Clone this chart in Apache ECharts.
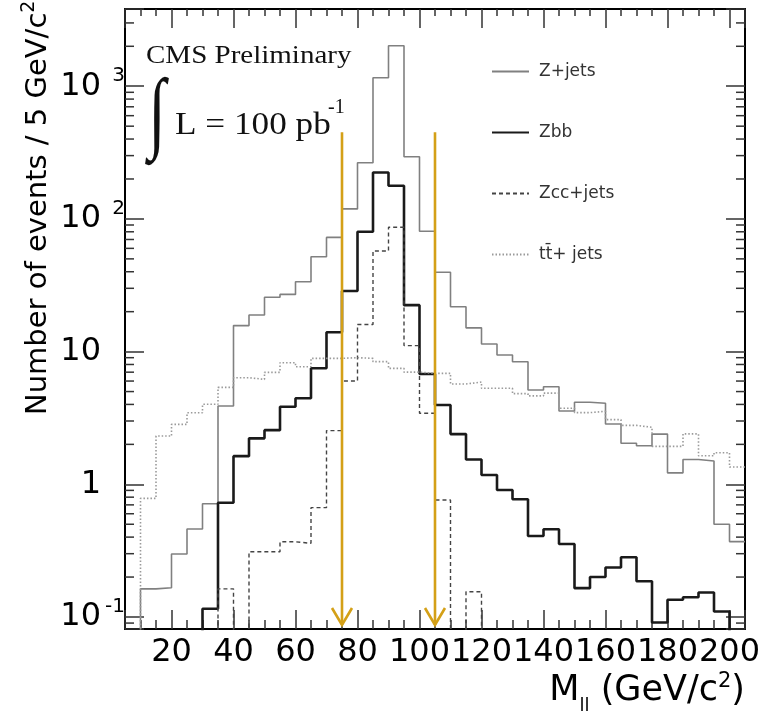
<!DOCTYPE html>
<html><head><meta charset="utf-8">
<script src="https://cdn.jsdelivr.net/npm/echarts@6/dist/echarts.min.js"></script>
<style>html,body{margin:0;padding:0;background:#fff}#c{width:767px;height:722px}</style>
</head><body><div id="c"></div>
<script>
// ---- data (bin lower edges, 5 GeV bins) ----
const binLow = [5,10,15,20,25,30,35,40,45,50,55,60,65,70,75,80,85,90,95,100,105,110,115,120,125,130,135,140,145,150,155,160,165,170,175,180,185,190,195,200];
const binWidth = 5;
const zJets   = [0,0.163,0.166,0.298,0.46,0.714,3.89,15.7,18.9,25.7,27.0,33.6,51.9,72.6,119,265,1159,2019,294,80.7,39.6,21.8,15.1,11.4,9.42,8.39,5.14,5.44,3.57,4.15,4.08,2.85,2.04,1.95,2.39,1.22,1.54,1.50,0.50,0.37];
const zbb     = [0,0,0,0,0,0.1155,0.727,1.63,2.22,2.56,3.84,4.45,7.5,14.0,28.6,80.1,224,178,22.4,6.78,3.96,2.39,1.54,1.175,0.906,0.771,0.408,0.458,0.355,0.165,0.200,0.236,0.282,0.186,0.091,0.135,0.141,0.153,0.110,0];
const zccJets = [0,0,0,0,0,0,0.163,0,0.31,0.31,0.369,0.359,0.667,2.54,6.0,16.0,57.3,86.5,11.1,3.43,0.762,0,0.155,0,0,0,0,0,0,0,0,0,0,0,0,0,0,0,0,0];
const ttJets  = [0,0.784,2.31,2.83,3.46,4.01,5.38,6.36,6.18,6.98,8.25,7.69,8.9,8.9,9.0,8.9,8.4,7.48,7.0,6.86,6.86,5.7,5.9,5.29,5.29,4.82,4.64,4.87,3.74,3.47,3.55,3.07,2.78,2.69,1.93,1.93,2.40,1.64,1.73,1.35];
const seriesNames = ['Z+jets', 'Zbb', 'Zcc+jets', 'tt\u0304+ jets'];
const cutValues = [75, 105];
const arrowTop = 450;
const arrowTip = 0.087;
const xTickLabels = [20,40,60,80,100,120,140,160,180,200];
const yTickValues = [0.1, 1, 10, 100, 1000];
const yTickLabels = [['10','-1'], ['1',''], ['10',''], ['10','2'], ['10','3']];
const yMinorTicks = [0.09,0.2,0.3,0.4,0.5,0.6,0.7,0.8,0.9,2,3,4,5,6,7,8,9,20,30,40,50,60,70,80,90,200,300,400,500,600,700,800,900,2000,3000];
const xMin = 5, xMax = 205, yMin = 0.0812, yMax = 3820;

// ---- build ----
const FLOOR = 1e-3;
function stepData(vals) {
  const d = binLow.map((x, i) => [x, Math.max(vals[i], FLOOR)]);
  d.push([binLow[binLow.length - 1] + binWidth, Math.max(vals[vals.length - 1], FLOOR)]);
  return d;
}
const styles = [
  {color: '#808080', width: 1.6, type: 'solid'},
  {color: '#1a1a1a', width: 2.6, type: 'solid'},
  {color: '#444444', width: 1.4, type: [4, 3]},
  {color: '#9a9a9a', width: 1.6, type: [1.5, 2]}
];
const dataSets = [zJets, zbb, zccJets, ttJets];
const FONT = 'DejaVu Sans';
const axisLineStyle = {color: '#000', width: 2};
const tickStyle = {color: '#333', width: 1.5};

const chart = echarts.init(document.getElementById('c'), null, {renderer: 'canvas'});
const histSeries = dataSets.map((vals, i) => ({
  name: seriesNames[i], type: 'line', step: 'end', symbol: 'none', clip: true,
  xAxisIndex: 0, yAxisIndex: 0, z: 3,
  lineStyle: {color: styles[i].color, width: styles[i].width, type: styles[i].type},
  itemStyle: {color: styles[i].color},
  data: stepData(vals)
}));

const minorSeries = {
  type: 'custom', xAxisIndex: 0, yAxisIndex: 0, z: 4, silent: true,
  data: yMinorTicks.map(v => [xMin, v]),
  renderItem: (params, api) => {
    const v = api.value(1);
    const pL = api.coord([xMin, v]);
    const pR = api.coord([xMax, v]);
    return {type: 'group', children: [
      {type: 'line', shape: {x1: pL[0], y1: pL[1], x2: pL[0] + 9, y2: pL[1]}, style: {stroke: '#333', lineWidth: 1.5}},
      {type: 'line', shape: {x1: pR[0] - 9, y1: pR[1], x2: pR[0], y2: pR[1]}, style: {stroke: '#333', lineWidth: 1.5}}
    ]};
  }
};

const arrowSeries = {
  type: 'custom', xAxisIndex: 0, yAxisIndex: 0, z: 6, silent: true,
  data: cutValues.map(x => [x, arrowTop]),
  renderItem: (params, api) => {
    const x = api.value(0);
    const top = api.coord([x, api.value(1)]);
    const tip = api.coord([x, arrowTip]);
    const c = '#d4a017';
    return {type: 'group', children: [
      {type: 'line', shape: {x1: top[0], y1: top[1], x2: tip[0], y2: tip[1]}, style: {stroke: c, lineWidth: 2.6}},
      {type: 'polyline', shape: {points: [[tip[0] - 10, tip[1] - 17], [tip[0], tip[1]], [tip[0] + 10, tip[1] - 17]]}, style: {stroke: c, lineWidth: 2.6, fill: 'none'}}
    ]};
  }
};

function xLabel(v) {
  const r = Math.round(v);
  return (Math.abs(v - r) < 1e-6 && xTickLabels.includes(r)) ? String(r) : '';
}
function yLabel(v) {
  const i = yTickValues.findIndex(t => Math.abs(Math.log10(v) - Math.log10(t)) < 1e-6);
  if (i < 0) return '';
  const [b, s] = yTickLabels[i];
  return '{b|' + b + '}{s|' + (s || ' ') + '}';
}

const baseX = {type: 'value', min: xMin, max: xMax, splitLine: {show: false}};
const baseY = {type: 'log', logBase: 10, min: yMin, max: yMax, splitLine: {show: false}};

chart.setOption({
  animation: false,
  backgroundColor: '#fff',
  grid: {left: 125, top: 9, right: 22, bottom: 93, containLabel: false, outerBoundsMode: 'none'},
  legend: {
    data: seriesNames, orient: 'vertical', left: 491, top: 63, itemWidth: 37, itemHeight: 14, itemGap: 44,
    selectedMode: false, padding: 0,
    itemStyle: {opacity: 0},
    textStyle: {fontSize: 17, fontFamily: FONT, color: '#333', padding: [0, 0, 0, 5]}
  },
  xAxis: [
    Object.assign({}, baseX, {position: 'bottom', interval: 5,
      axisLine: {show: true, lineStyle: axisLineStyle},
      axisTick: {show: true, inside: true, length: 9, lineStyle: tickStyle},
      axisLabel: {show: true, margin: 8, formatter: xLabel, fontSize: 32, fontFamily: FONT, color: '#000', showMinLabel: true, showMaxLabel: true}}),
    Object.assign({}, baseX, {position: 'bottom', splitNumber: 10,
      axisLine: {show: false},
      axisTick: {show: true, inside: true, length: 19, lineStyle: tickStyle},
      axisLabel: {show: false}}),
    Object.assign({}, baseX, {position: 'top', interval: 5,
      axisLine: {show: true, lineStyle: axisLineStyle},
      axisTick: {show: true, inside: true, length: 7, lineStyle: tickStyle},
      axisLabel: {show: false}}),
    Object.assign({}, baseX, {position: 'top', splitNumber: 10,
      axisLine: {show: false},
      axisTick: {show: true, inside: true, length: 19, lineStyle: tickStyle},
      axisLabel: {show: false}})
  ],
  yAxis: [
    Object.assign({}, baseY, {position: 'left',
      axisLine: {show: true, lineStyle: axisLineStyle},
      axisTick: {show: true, inside: true, length: 19, lineStyle: tickStyle},
      axisLabel: {show: true, margin: 0, formatter: yLabel, showMinLabel: true, showMaxLabel: true,
        rich: {
          b: {fontSize: 32, fontFamily: FONT, color: '#000', lineHeight: 34},
          s: {fontSize: 20, fontFamily: FONT, color: '#000', width: 24, verticalAlign: 'middle', lineHeight: 2, padding: [0, 0, 20, 0]}
        }}}),
    Object.assign({}, baseY, {position: 'right',
      axisLine: {show: true, lineStyle: axisLineStyle},
      axisTick: {show: true, inside: true, length: 19, lineStyle: tickStyle},
      axisLabel: {show: false}})
  ],
  graphic: {elements: [
    {type: 'text', x: 146, y: 56, scaleX: 1.16, z: 10,
      style: {text: 'CMS Preliminary', fontSize: 25, fontFamily: 'Liberation Serif', fill: '#111', align: 'left', verticalAlign: 'middle'}},
    {type: 'text', x: 157, y: 117, scaleX: 0.7, z: 10,
      style: {text: '\u222B', fontSize: 90, fontFamily: 'Liberation Serif', fill: '#111', align: 'center', verticalAlign: 'middle'}},
    {type: 'text', x: 175, y: 126, scaleX: 1.1, z: 10,
      style: {text: 'L = 100 pb', fontSize: 32, fontFamily: 'Liberation Serif', fill: '#111', align: 'left', verticalAlign: 'middle'}},
    {type: 'text', x: 328, y: 108, z: 10,
      style: {text: '-1', fontSize: 20, fontFamily: 'Liberation Serif', fill: '#111', align: 'left', verticalAlign: 'middle'}},
    {type: 'text', x: 38, y: 415, rotation: Math.PI / 2, z: 10,
      style: {text: '{a|Number of events / 5 GeV/c}{s|2}', align: 'left', verticalAlign: 'middle',
        rich: {a: {fontSize: 29, fontFamily: FONT, fill: '#000', lineHeight: 32},
               s: {fontSize: 19, fontFamily: FONT, fill: '#000', verticalAlign: 'middle', lineHeight: 2, padding: [0, 0, 18, 0]}}}},
    {type: 'text', x: 745, y: 691, z: 10,
      style: {text: '{a|M}{d|ll}{a| (GeV/c}{s|2}{a|)}', align: 'right', verticalAlign: 'middle',
        rich: {a: {fontSize: 35, fontFamily: FONT, fill: '#000', lineHeight: 38},
               d: {fontSize: 18, fontFamily: FONT, fill: '#000', verticalAlign: 'middle', lineHeight: 2, padding: [30, 0, 0, 0]},
               s: {fontSize: 21, fontFamily: FONT, fill: '#000', verticalAlign: 'middle', lineHeight: 2, padding: [0, 0, 18, 0]}}}}
  ]},
  series: histSeries.concat([minorSeries, arrowSeries])
});
</script>
</body></html>
